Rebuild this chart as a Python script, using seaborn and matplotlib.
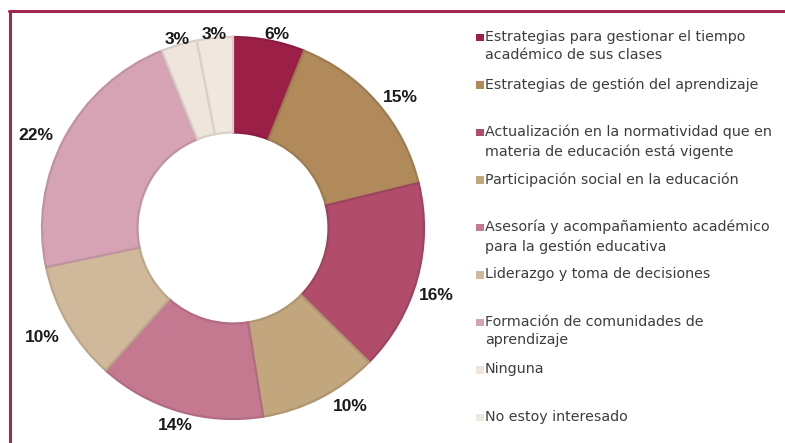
import matplotlib.pyplot as plt
import matplotlib.colors as mcolors
import numpy as np
from matplotlib.lines import Line2D
from matplotlib.patches import Rectangle
import seaborn as sns

categorias = [
    "Estrategias para gestionar el tiempo\nacadémico de sus clases",
    "Estrategias de gestión del aprendizaje",
    "Actualización en la normatividad que en\nmateria de educación está vigente",
    "Participación social en la educación",
    "Asesoría y acompañamiento académico\npara la gestión educativa",
    "Liderazgo y toma de decisiones",
    "Formación de comunidades de\naprendizaje",
    "Ninguna",
    "No estoy interesado",
]
porcentajes = [6, 15, 16, 10, 14, 10, 22, 3, 3]
colores = ["#9c1f47", "#b08a5a", "#b14c6b", "#c2a67e", "#c47990",
           "#d0b99a", "#d5a3b3", "#efe5dc", "#f0e7df"]
# posición de cada etiqueta: distancia (en radios) y giro (grados)
dist_etiqueta = [1.04, 1.11, 1.12, 1.12, 1.08, 1.15, 1.14, 1.03, 1.02]
giro_etiqueta = [-2, -3, -3, 6, 0, 0, 3, 0, 0]

sns.set_style("white")
plt.rcParams['font.family'] = ['Liberation Sans', 'DejaVu Sans']

fig = plt.figure(figsize=(7.85, 4.43), dpi=100)

# donut centrado en (233, 228) px, radio ~191 px
lim = 1.12
size = 191 * 2 * lim
ax = fig.add_axes([(233 - size / 2) / 785, (443 - 228 - size / 2) / 443,
                   size / 785, size / 443])
wedges, _ = ax.pie(porcentajes, colors=colores, startangle=90, counterclock=False,
                   wedgeprops=dict(width=0.5, linewidth=1.6))
for w, c, p, d, g in zip(wedges, colores, porcentajes, dist_etiqueta, giro_etiqueta):
    r_, g_, b_ = mcolors.to_rgb(c)
    w.set_edgecolor((r_ * 0.9, g_ * 0.9, b_ * 0.9))
    ang = np.deg2rad((w.theta1 + w.theta2) / 2 + g)
    ax.text(d * np.cos(ang), d * np.sin(ang), f"{p}%", ha="center", va="center",
            fontsize=12.5, fontweight="bold", color="#1a1a1a")
ax.set_xlim(-lim, lim)
ax.set_ylim(-lim, lim)
ax.set_aspect("equal")
ax.axis("off")

# leyenda manual, espaciado regular
y0, paso = 37, 47.5
for i, (cat, col) in enumerate(zip(categorias, colores)):
    y = y0 + i * paso
    fig.patches.append(Rectangle((476 / 785, 1 - (y + 4) / 443), 7.5 / 785, 7.5 / 443,
                                 transform=fig.transFigure, facecolor=col, edgecolor="none"))
    fig.text(485 / 785, 1 - (y - 7.3) / 443, cat, fontsize=10.3, color="#3d3d3d",
             va="top", ha="left", linespacing=1.42, family=['DejaVu Sans'])

# marco
borde = "#a3284f"
fig.add_artist(Line2D([9 / 785, 1], [1 - 11 / 443, 1 - 11 / 443], color=borde, lw=2.2,
                      transform=fig.transFigure))
fig.add_artist(Line2D([10 / 785, 10 / 785], [1 - 11 / 443, 0], color=borde, lw=2.2,
                      transform=fig.transFigure))

fig.savefig("out.png", dpi=100)
